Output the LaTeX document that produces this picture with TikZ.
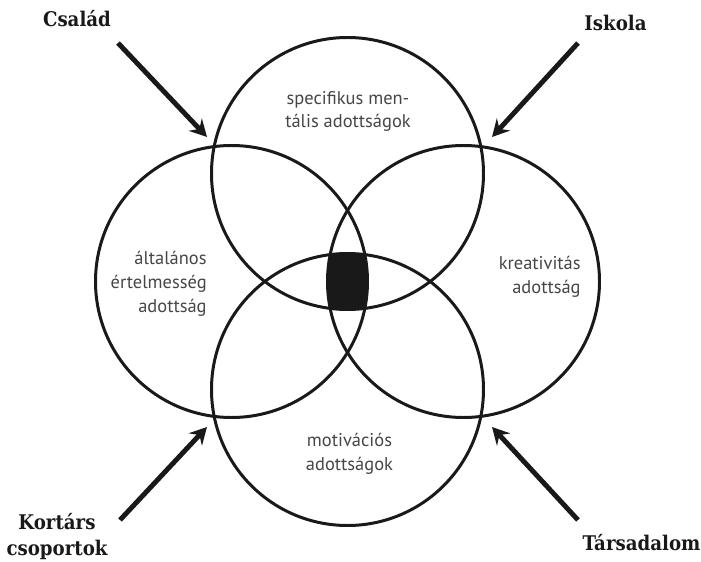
\documentclass[tikz,border=0pt]{standalone}
\usepackage{fontspec}
\setmainfont{PT Sans}
\newfontfamily\slabfont{DejaVu Serif Condensed}
\usepackage{tikz}
\usetikzlibrary{positioning,calc}
\usetikzlibrary{arrows.meta}
\definecolor{szurke}{RGB}{70,70,70}
\definecolor{fekete}{RGB}{25,25,25}
\tikzstyle{kor} = [line width=1.7pt, draw=fekete]
\tikzstyle{felirat} = [text=szurke, font=\fontsize{10.5}{13.5}\selectfont, inner sep=0pt]
\tikzstyle{hatas} = [font=\slabfont\bfseries\fontsize{11.5}{15}\selectfont, text=fekete, align=center, inner sep=0pt]
\tikzstyle{nyil} = [line width=2.8pt, draw=fekete, -{Stealth[length=3.4mm,width=3.6mm,inset=1.2mm]}]

\begin{document}
\begin{tikzpicture}
					\useasboundingbox (0,0) rectangle (14.02,11.22);
					% a negy kor kozeppontja
					\coordinate (k1) at (6.95,7.75);
					\coordinate (k2) at (4.63,5.59);
					\coordinate (k3) at (9.27,5.59);
					\coordinate (k4) at (6.95,3.43);
					% kozos resz
					\begin{scope}
						\clip (k1) circle (2.72);
						\clip (k2) circle (2.72);
						\clip (k3) circle (2.72);
						\fill[fekete] (k4) circle (2.72);
					\end{scope}
					\draw[kor] (k1) circle (2.72);
					\draw[kor] (k2) circle (2.72);
					\draw[kor] (k3) circle (2.72);
					\draw[kor] (k4) circle (2.72);
					\node (spec) at (6.96,8.99) [felirat, align=center] {specifikus men-\\tális adottságok};
					\node (alt) at (4.14,5.54) [felirat, align=right, anchor=east] {általános\\értelmesség\\adottság};
					\node (krea) at (11.62,5.68) [felirat, align=right, anchor=east] {kreativitás\\adottság};
					\node (moti) at (6.99,2.14) [felirat, align=center] {motivációs\\adottságok};
					\node (csalad) at (1.54,10.84) [hatas] {Család};
					\node (iskola) at (12.31,10.76) [hatas] {Iskola};
					\node (kortars) at (1.14,0.49) [hatas] {Kortárs\\csoportok};
					\node (tars) at (12.83,0.36) [hatas] {Társadalom};
					\coordinate (c1) at (2.36,10.36);
					\coordinate (c2) at (4.14,8.48);
					\coordinate (i1) at (11.56,10.36);
					\coordinate (i2) at (9.84,8.48);
					\coordinate (k5) at (2.40,0.82);
					\coordinate (k6) at (4.14,2.68);
					\coordinate (t1) at (11.56,0.82);
					\coordinate (t2) at (9.84,2.68);
					\draw[nyil] (c1) -- (c2);
					\draw[nyil] (i1) -- (i2);
					\draw[nyil] (k5) -- (k6);
					\draw[nyil] (t1) -- (t2);
				\end{tikzpicture}
\end{document}
